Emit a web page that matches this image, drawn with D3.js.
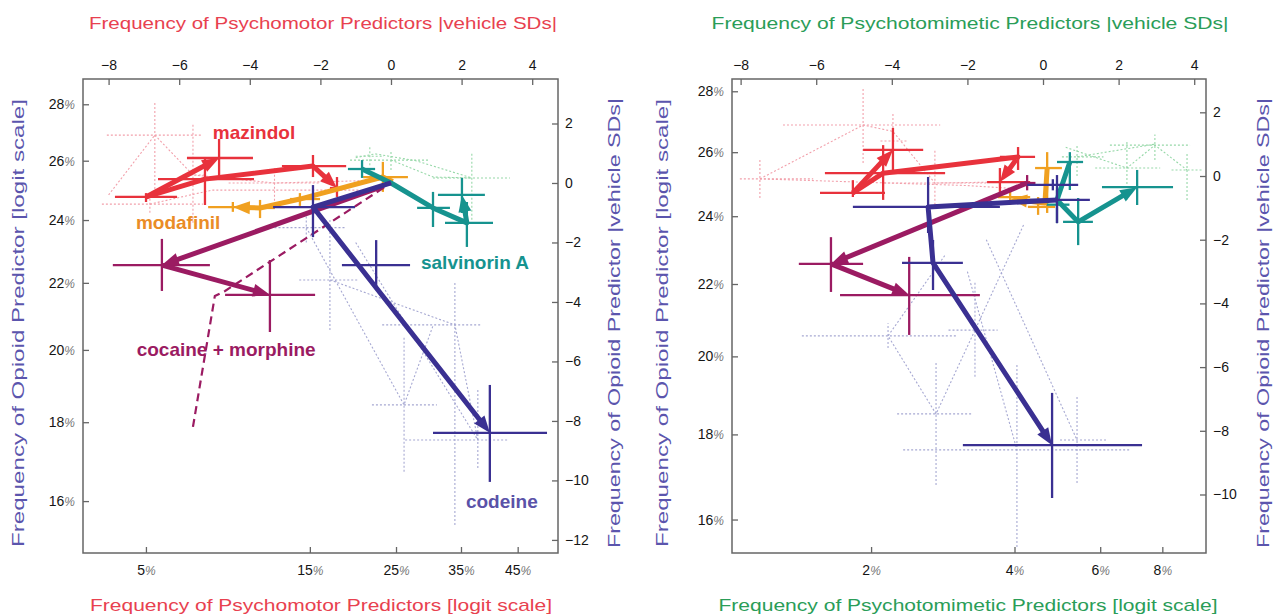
<!DOCTYPE html>
<html>
<head>
<meta charset="utf-8">
<script src="https://cdn.jsdelivr.net/npm/d3@7"></script>
<style>
  body { margin: 0; background: #fff; }
  svg text { font-family: "Liberation Sans", Arial, sans-serif; }
</style>
</head>
<body>
<svg id="chart" width="1274" height="615"></svg>
<script>
// ---- tick values ----
const sdTicks = [-8, -6, -4, -2, 0, 2, 4];
const motorPctTicks = [0.05, 0.15, 0.25, 0.35, 0.45];
const mimeticPctTicks = [0.02, 0.04, 0.06, 0.08];
const opioidPctTicks = [0.16, 0.18, 0.20, 0.22, 0.24, 0.26, 0.28];
const opioidSdTicksMotor = [2, 0, -2, -4, -6, -8, -10, -12];
const opioidSdTicksMimetic = [2, 0, -2, -4, -6, -8, -10];

// ---- drug trajectories, in vehicle SDs ----
// crosses: [x, y, xLow, xHigh, yLow, yHigh]; paths: polylines ending in an arrow

// psychomotor panel
const motorMazindol = [[-6.94, -0.47, -7.82, -6.06, -0.64, -0.34], [-4.87, 0.84, -5.78, -3.91, 0.17, 1.48],
  [-5.27, 0.13, -6.6, -3.88, -0.74, 0.84], [-2.21, 0.57, -3.09, -1.27, 0.2, 0.94], [-1.53, -0.17, -1.73, -1.3, -0.47, 0.2]];
const motorMazindolPaths = [[[-6.94, -0.47], [-4.87, 0.84]], [[-6.94, -0.47], [-5.27, 0.13], [-2.21, 0.57], [-1.53, -0.17]]];
const motorModafinil = [[-0.23, 0.2, -0.79, 0.48, -0.3, 0.71], [-2.58, -0.54, -2.86, -2.01, -0.77, -0.34],
  [-3.71, -0.84, -4.14, -3.29, -1.18, -0.57], [-4.48, -0.81, -5.18, -3.71, -0.97, -0.64]];
const motorModafinilPaths = [[[0.05, 0.05], [-0.23, 0.2], [-2.58, -0.54], [-3.71, -0.84], [-4.48, -0.81]]];
const motorSalvinorin = [[-0.82, 0.47, -1.22, -0.45, 0.17, 0.77], [1.19, -0.84, 0.74, 1.67, -1.48, -0.3],
  [2.15, -1.34, 1.53, 2.89, -2.15, -0.64], [2.01, -0.4, 1.33, 2.66, -1.01, 0.17]];
const motorSalvinorinPaths = [[[-0.82, 0.47], [0, 0], [1.19, -0.84], [2.15, -1.34], [2.01, -0.4]]];
const motorCocaine = [[-6.49, -2.76, -7.88, -5.13, -3.63, -1.88], [-3.43, -3.76, -4.7, -2.15, -5.01, -2.59]];
const motorCocainePaths = [[[-0.2, -0.1], [-6.49, -2.76]], [[-6.49, -2.76], [-3.43, -3.76]]];
const motorCocaineDashed = [[-5.61, -8.2], [-4.99, -3.8], [-4.7, -3.63], [0, 0]];
const motorCodeine = [[-2.21, -0.81, -3.34, -1.02, -1.82, -0.07], [-0.42, -2.76, -1.39, 0.54, -3.6, -1.92],
  [2.8, -8.4, 1.19, 4.42, -10.05, -6.79]];
const motorCodeinePaths = [[[0, 0], [-2.21, -0.81], [2.8, -8.4]]];

// psychotomimetic panel
const mimeticMazindol = [[-5.03, -0.53, -5.9, -4.18, -0.66, -0.13], [-3.97, 0.82, -4.76, -3.17, 0.19, 1.51],
  [-4.23, 0.09, -5.77, -2.59, -0.75, 0.97], [-0.66, 0.6, -1.14, -0.21, 0.19, 0.91], [-1.14, -0.19, -1.48, -0.34, -0.5, 0.25]];
const mimeticMazindolPaths = [[[-5.03, -0.53], [-3.97, 0.82]], [[-5.03, -0.53], [-4.23, 0.09], [-0.66, 0.6], [-1.14, -0.19]]];
const mimeticModafinil = [[0.11, 0.25, -0.21, 0.5, -1.16, 0.75], [-0.13, -0.97, -0.4, 0.32, -1.22, -0.66],
  [-0.87, -0.66, -1.19, -0.34, -0.91, -0.44]];
const mimeticModafinilPaths = [[[0.11, 0.25], [0.05, -0.85], [-0.87, -0.72]]];
const mimeticSalvinorin = [[0.71, 0.44, 0.37, 1.06, -0.44, 0.75], [0.37, -0.9, 0.1, 0.7, -1.48, -0.44],
  [0.93, -1.44, 0.53, 1.32, -2.17, -0.69], [2.49, -0.35, 1.56, 3.44, -0.91, 0.19]];
const mimeticSalvinorinPaths = [[[0.71, 0.44], [0.37, -0.75], [0.93, -1.44], [2.49, -0.35]]];
const mimeticCocaine = [[-0.42, -0.22, -0.6, -0.2, -0.45, 0.03], [-5.61, -2.76, -6.46, -4.76, -3.64, -1.92],
  [-3.54, -3.74, -5.37, -1.67, -4.99, -2.54]];
const mimeticCocainePaths = [[[-0.42, -0.22], [-5.61, -2.76]], [[-5.61, -2.76], [-3.54, -3.74]]];
const mimeticCodeine = [[0.37, -0.75, -0.34, 1.24, -1.48, 0.03], [0.26, -0.28, -0.42, 0.93, -0.45, -0.1],
  [-3.04, -0.97, -5.03, -1.14, -1.79, -0.03], [-2.91, -2.73, -3.73, -2.12, -3.58, -2.01],
  [0.24, -8.45, -2.12, 2.62, -10.11, -6.81]];
const mimeticCodeinePaths = [[[0.37, -0.75], [-3.04, -0.97], [-2.91, -2.73], [0.24, -8.45]]];

// faint single-predictor traces (dotted)
const motorFaintPink = [[-6.69, 1.61, -8.05, -5.33, -0.47, 2.69], [-5.61, 0.27, -5.9, -5.3, -1.34, 2.02],
  [-6.83, -0.71, -8.19, -5.33, -1.0, -0.4], [-3.3, 0.0, -4.6, -2.0, -0.6, 0.5]];
const motorFaintPinkLines = [[[-6.69, 1.61], [-5.61, 0.27], [-3.3, 0.0], [0, 0.1]],
  [[-6.83, -0.71], [-5.07, -0.24], [-0.88, -0.24]], [[-8.0, -0.4], [-6.69, 1.61]]];
const motorFaintGreen = [[0, 0.77, -1.16, 1.1, 0.44, 1.11], [2.29, 0.17, 1.19, 3.37, -1.24, 1.01],
  [-0.6, 0.9, -1.0, -0.2, 0.6, 1.2]];
const motorFaintGreenLines = [[[-1.0, 0.85], [-0.45, 0.98], [0.7, 0.75], [2.29, 0.17]], [[0, 0.77], [1.2, 0.2], [2.29, 0.17]]];
const motorFaintBlue = [[1.81, -4.77, -0.25, 2.58, -11.5, -3.36], [0.37, -7.46, -0.54, 1.3, -9.71, -5.18],
  [2.46, -8.64, 0.4, 3.29, -9.58, -6.96], [-1.73, -3.26, -2.6, -0.9, -4.94, -1.24], [-2.4, -1.5, -3.3, -1.3, -2.0, -1.0]];
const motorFaintBlueLines = [[[-1.73, -3.26], [1.81, -4.77], [2.46, -8.64]], [[-2.4, -1.5], [0.37, -7.46], [1.2, -4.77]],
  [[-1.0, -2.0], [2.46, -8.64]]];

const mimeticFaintPink = [[-7.49, -0.09, -8.02, -6.08, -0.69, 0.5], [-4.76, 1.6, -6.88, -2.72, 0.41, 2.79],
  [-2.86, -0.22, -4.2, -1.5, -0.9, 0.8], [-3.97, 1.1, -4.3, -3.6, 0.5, 2.0]];
const mimeticFaintPinkLines = [[[-7.49, -0.09], [-4.76, 1.6], [-3.97, 1.4], [-2.86, -0.22], [-1.14, -0.19]],
  [[-7.49, -0.09], [-2.0, -0.3], [-0.66, -0.4]]];
const mimeticFaintGreen = [[2.22, 0.25, 1.38, 3.1, -0.75, 1.13], [2.96, 0.97, 1.77, 3.89, 0.5, 1.3],
  [3.81, 0.19, 3.4, 4.2, -0.75, 0.75], [0.9, 0.6, 0.5, 1.6, 0.0, 1.0]];
const mimeticFaintGreenLines = [[[0.6, 0.9], [2.22, 0.25], [2.96, 0.97], [3.81, 0.19]], [[0.9, 0.6], [2.96, 1.0]]];
const mimeticFaintBlue = [[-4.1, -5.02, -6.38, -2.28, -5.4, -4.62], [-2.83, -7.47, -3.86, -1.85, -9.7, -5.87],
  [0.9, -8.29, 0.45, 1.69, -9.64, -6.94], [-0.69, -8.6, -3.7, 2.3, -11.65, -5.87], [-1.8, -4.84, -2.5, -1.2, -6.3, -3.3]];
const mimeticFaintBlueLines = [[[-2.6, -2.5], [-4.1, -5.02], [-2.83, -7.47], [-1.8, -4.84], [-0.5, -1.5]],
  [[-2.0, -3.0], [-0.69, -8.6]], [[-1.5, -2.0], [0.9, -8.29]]];

// drug labels (psychomotor panel only): [text, x, y]
const motorLabels = [['mazindol', -3.88, 1.71], ['modafinil', -6.03, -1.31], ['salvinorin A', 2.38, -2.66],
  ['cocaine + morphine', -4.67, -5.58], ['codeine', 3.14, -10.72]];

// ---- styling ----
const colors = {
  mazindol: '#e8323c', modafinil: '#f0a020', salvinorin: '#16938f', cocaine: '#9b1b62', codeine: '#3a3092',
  pink: '#f2a0ab', green: '#96d8a8', blue: '#a6a8d2'
};
const labelColors = ['#e8323c', '#ea8c26', '#16938f', '#9b1b62', '#5a52a8'];
const red = '#e8414f', green = '#2a9d58', purple = '#5b55ad';

const logit = p => Math.log(p / (1 - p));
const svg = d3.select('#chart');

function pctText(sel) {
  sel.selectAll('.tick text').each(function(d) {
    const t = d3.select(this);
    const n = Math.round(100 / (1 + Math.exp(-d)));
    t.text(null);
    t.append('tspan').text(n);
    t.append('tspan').attr('fill', '#777').attr('font-style', 'italic').attr('font-size', 12).text('%');
  });
}

function styleAxis(a) {
  a.attr('font-size', 14).attr('font-family', '"Liberation Sans", Arial, sans-serif');
  a.select('.domain').remove();
  a.selectAll('.tick line').attr('stroke', '#666').attr('stroke-width', 1.3);
  a.selectAll('.tick text').attr('fill', '#151515');
}

function drawPanel(cfg) {
  const [x0, y0, x1, y1] = cfg.box;
  const x = d3.scaleLinear().domain(cfg.xSd).range([x0, x1]);
  const y = d3.scaleLinear().domain(cfg.ySd).range([y1, y0]);
  const xl = d3.scaleLinear().domain(cfg.xLogit).range([x0, x1]);
  const yl = d3.scaleLinear().domain(cfg.yLogit).range([y1, y0]);
  const g = svg.append('g');
  const line = d3.line().x(d => x(d[0])).y(d => y(d[1]));

  function crosses(rows, color, width, dash) {
    const c = g.append('g').attr('stroke', color).attr('stroke-width', width).attr('stroke-dasharray', dash || null);
    c.selectAll('.h').data(rows).enter().append('line').attr('class', 'h')
      .attr('x1', d => x(d[2])).attr('x2', d => x(d[3])).attr('y1', d => y(d[1])).attr('y2', d => y(d[1]));
    c.selectAll('.v').data(rows).enter().append('line').attr('class', 'v')
      .attr('x1', d => x(d[0])).attr('x2', d => x(d[0])).attr('y1', d => y(d[4])).attr('y2', d => y(d[5]));
  }

  function dotted(lines, color) {
    g.append('g').selectAll('path').data(lines).enter().append('path')
      .attr('d', line).attr('fill', 'none').attr('stroke', color)
      .attr('stroke-width', 1.1).attr('stroke-dasharray', '2,2');
  }

  function arrowPath(pts, color, width) {
    const px = pts.map(p => [x(p[0]), y(p[1])]);
    const a = px[px.length - 2], b = px[px.length - 1];
    const dx = b[0] - a[0], dy = b[1] - a[1], L = Math.hypot(dx, dy);
    const ux = dx / L, uy = dy / L, len = 17, half = 6.5;
    const bx = b[0] - ux * len, by = b[1] - uy * len;
    const shaft = px.slice(0, -1).concat([[b[0] - ux * len * 0.6, b[1] - uy * len * 0.6]]);
    g.append('path').attr('d', d3.line()(shaft)).attr('fill', 'none').attr('stroke', color)
      .attr('stroke-width', width).attr('stroke-linejoin', 'round');
    g.append('path')
      .attr('d', `M${b[0]},${b[1]}L${bx - uy * half},${by + ux * half}L${bx + uy * half},${by - ux * half}Z`)
      .attr('fill', color);
  }

  // faint traces
  cfg.faint.forEach(f => { crosses(f.crosses, f.color, 1.1, '2,2'); dotted(f.lines, f.color); });

  // drugs
  cfg.drugs.forEach(dr => {
    if (dr.dashed) {
      g.append('path').attr('d', line(dr.dashed)).attr('fill', 'none').attr('stroke', dr.color)
        .attr('stroke-width', 2.2).attr('stroke-dasharray', '8,5');
    }
    crosses(dr.crosses, dr.color, 2.3);
    dr.paths.forEach(p => arrowPath(p, dr.color, 5));
  });

  // labels
  if (cfg.labels) {
    g.selectAll('.lab').data(cfg.labels).enter().append('text').attr('class', 'lab')
      .attr('x', d => x(d[1])).attr('y', d => y(d[2])).attr('dy', '0.35em')
      .attr('text-anchor', 'middle').attr('font-weight', 'bold').attr('font-size', 19)
      .attr('fill', (d, i) => labelColors[i]).text(d => d[0]);
  }

  // frame
  g.append('rect').attr('x', x0).attr('y', y0).attr('width', x1 - x0).attr('height', y1 - y0)
    .attr('fill', 'none').attr('stroke', '#666').attr('stroke-width', 1.5);

  // axes (ticks point inward)
  const top = g.append('g').attr('transform', `translate(0,${y0})`)
    .call(d3.axisTop(x).tickValues(sdTicks).tickSize(-6).tickPadding(9));
  styleAxis(top);
  const bottom = g.append('g').attr('transform', `translate(0,${y1})`)
    .call(d3.axisBottom(xl).tickValues(cfg.xPct.map(logit)).tickSize(-6).tickPadding(12));
  styleAxis(bottom); pctText(bottom);
  const left = g.append('g').attr('transform', `translate(${x0},0)`)
    .call(d3.axisLeft(yl).tickValues(opioidPctTicks.map(logit)).tickSize(-6).tickPadding(8));
  styleAxis(left); pctText(left);
  const right = g.append('g').attr('transform', `translate(${x1},0)`)
    .call(d3.axisRight(y).tickValues(cfg.ySdTicks).tickSize(-6).tickPadding(7));
  styleAxis(right);

  // titles
  const t = cfg.titles;
  const title = (txt, tx, ty, len, color, rot) => {
    const el = g.append('text').attr('text-anchor', 'middle').attr('dy', '0.35em')
      .attr('font-size', rot ? 16 : 17).attr('fill', color)
      .attr('textLength', len).attr('lengthAdjust', 'spacingAndGlyphs').text(txt);
    if (rot) el.attr('transform', `translate(${tx},${ty}) rotate(-90)`);
    else el.attr('x', tx).attr('y', ty);
  };
  title(t.top, t.cx, 23, t.topLen, t.color);
  title(t.bottom, t.cx - 2, 605, t.bottomLen, t.color);
  title('Frequency of Opioid  Predictor [logit scale]', t.leftX, 323, 448, purple, true);
  title('Frequency of Opioid  Predictor |vehicle SDs|', t.rightX, 323, 450, purple, true);
}

drawPanel({
  box: [83, 79, 558, 553],
  xSd: [-8.725, 4.731], ySd: [-12.44, 3.496],
  xLogit: [-3.409, 0.097], yLogit: [-1.7516, -0.899],
  xPct: motorPctTicks, ySdTicks: opioidSdTicksMotor,
  faint: [
    { crosses: motorFaintPink, lines: motorFaintPinkLines, color: colors.pink },
    { crosses: motorFaintGreen, lines: motorFaintGreenLines, color: colors.green },
    { crosses: motorFaintBlue, lines: motorFaintBlueLines, color: colors.blue }
  ],
  drugs: [
    { crosses: motorMazindol, paths: motorMazindolPaths, color: colors.mazindol },
    { crosses: motorModafinil, paths: motorModafinilPaths, color: colors.modafinil },
    { crosses: motorSalvinorin, paths: motorSalvinorinPaths, color: colors.salvinorin },
    { crosses: motorCocaine, paths: motorCocainePaths, color: colors.cocaine, dashed: motorCocaineDashed },
    { crosses: motorCodeine, paths: motorCodeinePaths, color: colors.codeine }
  ],
  labels: motorLabels,
  titles: {
    top: 'Frequency of Psychomotor Predictors |vehicle SDs|', topLen: 468,
    bottom: 'Frequency of Psychomotor Predictors [logit scale]', bottomLen: 462,
    cx: 323, color: red, leftX: 18, rightX: 614
  }
});

drawPanel({
  box: [732, 79, 1206, 553],
  xSd: [-8.228, 4.312], ySd: [-11.837, 3.046],
  xLogit: [-4.584, -2.225], yLogit: [-1.714, -0.924],
  xPct: mimeticPctTicks, ySdTicks: opioidSdTicksMimetic,
  faint: [
    { crosses: mimeticFaintPink, lines: mimeticFaintPinkLines, color: colors.pink },
    { crosses: mimeticFaintGreen, lines: mimeticFaintGreenLines, color: colors.green },
    { crosses: mimeticFaintBlue, lines: mimeticFaintBlueLines, color: colors.blue }
  ],
  drugs: [
    { crosses: mimeticMazindol, paths: mimeticMazindolPaths, color: colors.mazindol },
    { crosses: mimeticModafinil, paths: mimeticModafinilPaths, color: colors.modafinil },
    { crosses: mimeticSalvinorin, paths: mimeticSalvinorinPaths, color: colors.salvinorin },
    { crosses: mimeticCocaine, paths: mimeticCocainePaths, color: colors.cocaine },
    { crosses: mimeticCodeine, paths: mimeticCodeinePaths, color: colors.codeine }
  ],
  titles: {
    top: 'Frequency of Psychotomimetic Predictors |vehicle SDs|', topLen: 517,
    bottom: 'Frequency of Psychotomimetic Predictors [logit scale]', bottomLen: 499,
    cx: 970, color: green, leftX: 662, rightX: 1263
  }
});
</script>
</body>
</html>
